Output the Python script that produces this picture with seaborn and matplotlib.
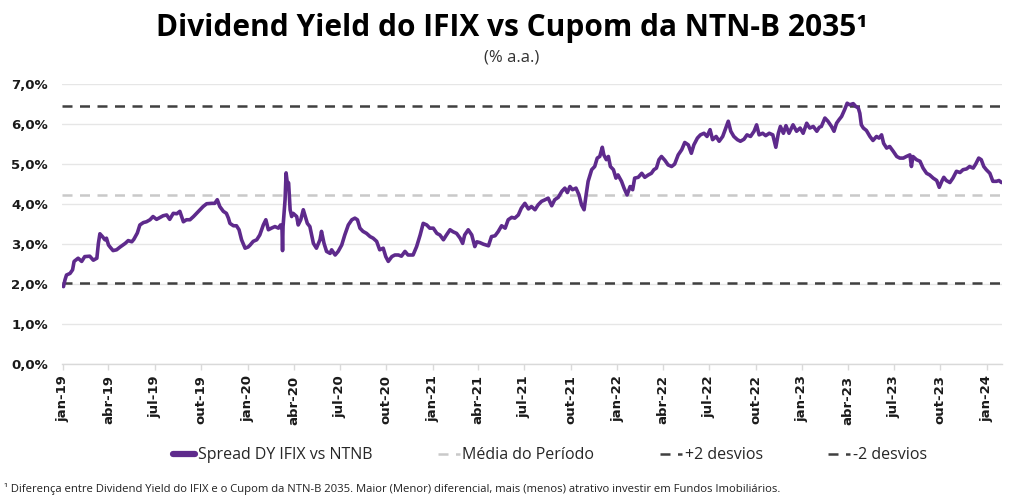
import matplotlib
matplotlib.use("Agg")
import matplotlib.pyplot as plt
from matplotlib.ticker import FuncFormatter
from matplotlib.lines import Line2D
import seaborn as sns
import pandas as pd

# ---------------- data ----------------
dates = [
    "2019-01-02", "2019-01-05", "2019-01-08", "2019-01-15", "2019-01-20", "2019-01-23", "2019-01-31",
    "2019-02-07", "2019-02-13", "2019-02-23", "2019-03-02", "2019-03-09", "2019-03-12", "2019-03-15",
    "2019-03-20", "2019-03-25", "2019-03-28", "2019-04-01", "2019-04-04", "2019-04-10", "2019-04-17",
    "2019-04-24", "2019-05-04", "2019-05-10", "2019-05-17", "2019-05-21", "2019-05-28", "2019-06-02",
    "2019-06-09", "2019-06-15", "2019-06-22", "2019-06-28", "2019-07-05", "2019-07-12", "2019-07-18",
    "2019-07-25", "2019-07-31", "2019-08-07", "2019-08-14", "2019-08-20", "2019-08-27", "2019-09-02",
    "2019-09-09", "2019-09-16", "2019-09-22", "2019-09-29", "2019-10-05", "2019-10-12", "2019-10-22",
    "2019-10-28", "2019-11-02", "2019-11-07", "2019-11-14", "2019-11-20", "2019-11-24", "2019-11-27",
    "2019-12-04", "2019-12-10", "2019-12-15", "2019-12-20", "2019-12-27", "2020-01-02",
    "2020-01-06", "2020-01-12", "2020-01-19", "2020-01-25", "2020-02-01", "2020-02-06", "2020-02-11",
    "2020-02-17", "2020-02-24", "2020-03-02", "2020-03-06", "2020-03-09", "2020-03-10", "2020-03-11",
    "2020-03-15", "2020-03-17", "2020-03-19", "2020-03-22", "2020-03-25", "2020-03-28", "2020-03-31",
    "2020-04-07", "2020-04-10", "2020-04-15", "2020-04-20", "2020-04-23", "2020-04-28", "2020-05-03",
    "2020-05-10", "2020-05-16", "2020-05-23", "2020-05-26", "2020-05-31", "2020-06-05", "2020-06-12",
    "2020-06-15", "2020-06-22", "2020-06-28", "2020-07-05", "2020-07-11", "2020-07-18", "2020-07-25",
    "2020-07-31", "2020-08-05", "2020-08-10", "2020-08-16", "2020-08-23", "2020-08-30", "2020-09-05",
    "2020-09-12", "2020-09-18", "2020-09-25", "2020-09-30", "2020-10-05", "2020-10-12", "2020-10-18",
    "2020-10-25", "2020-10-31", "2020-11-07", "2020-11-13", "2020-11-23", "2020-11-30", "2020-12-07",
    "2020-12-13", "2020-12-20", "2020-12-26", "2021-01-02", "2021-01-09",
    "2021-01-15", "2021-01-22", "2021-01-28", "2021-02-04", "2021-02-10", "2021-02-17", "2021-02-24",
    "2021-03-01", "2021-03-05", "2021-03-12", "2021-03-19", "2021-03-25", "2021-03-29", "2021-04-04",
    "2021-04-11", "2021-04-21", "2021-04-27", "2021-05-04", "2021-05-10", "2021-05-17", "2021-05-24",
    "2021-05-30", "2021-06-06", "2021-06-12", "2021-06-19", "2021-06-25", "2021-07-02", "2021-07-09",
    "2021-07-15", "2021-07-22", "2021-07-28", "2021-08-04", "2021-08-11", "2021-08-17", "2021-08-24",
    "2021-08-30", "2021-09-06", "2021-09-13", "2021-09-19", "2021-09-24", "2021-09-29", "2021-10-04",
    "2021-10-11", "2021-10-17", "2021-10-22", "2021-10-27", "2021-10-31", "2021-11-04", "2021-11-11",
    "2021-11-17", "2021-11-22", "2021-11-27", "2021-12-02", "2021-12-05", "2021-12-10", "2021-12-14",
    "2021-12-18", "2021-12-24", "2021-12-29", "2022-01-02", "2022-01-09", "2022-01-14", "2022-01-20",
    "2022-01-26", "2022-01-31", "2022-02-04", "2022-02-11", "2022-02-18", "2022-02-24", "2022-03-03",
    "2022-03-09", "2022-03-14", "2022-03-19", "2022-03-24", "2022-03-29", "2022-04-05", "2022-04-11",
    "2022-04-18", "2022-04-24", "2022-05-01", "2022-05-08", "2022-05-14", "2022-05-21", "2022-05-27",
    "2022-06-01", "2022-06-08", "2022-06-14", "2022-06-21", "2022-06-27", "2022-07-03", "2022-07-08",
    "2022-07-15", "2022-07-21", "2022-07-28", "2022-08-03", "2022-08-08", "2022-08-13", "2022-08-19",
    "2022-08-26", "2022-09-01", "2022-09-08", "2022-09-14", "2022-09-21", "2022-09-28", "2022-10-03",
    "2022-10-08", "2022-10-15", "2022-10-21", "2022-10-28", "2022-11-04", "2022-11-10", "2022-11-15",
    "2022-11-19", "2022-11-25", "2022-11-30", "2022-12-06", "2022-12-14", "2022-12-21", "2022-12-28",
    "2023-01-03", "2023-01-10", "2023-01-16", "2023-01-23", "2023-01-30", "2023-02-04",
    "2023-02-08", "2023-02-15", "2023-02-21", "2023-02-28", "2023-03-05", "2023-03-10", "2023-03-15",
    "2023-03-20", "2023-03-26", "2023-03-31", "2023-04-05", "2023-04-12", "2023-04-17", "2023-04-22",
    "2023-04-25", "2023-04-28", "2023-05-02", "2023-05-08", "2023-05-15", "2023-05-21", "2023-05-28",
    "2023-06-02", "2023-06-07", "2023-06-11", "2023-06-17", "2023-06-23", "2023-06-30", "2023-07-07",
    "2023-07-13", "2023-07-20", "2023-07-26", "2023-08-02", "2023-08-05", "2023-08-08", "2023-08-15",
    "2023-08-22", "2023-08-28", "2023-09-04", "2023-09-10", "2023-09-17", "2023-09-24", "2023-09-29",
    "2023-10-04", "2023-10-08", "2023-10-13", "2023-10-20", "2023-10-26", "2023-11-02", "2023-11-09",
    "2023-11-15", "2023-11-22", "2023-11-28", "2023-12-05", "2023-12-10", "2023-12-16", "2023-12-21",
    "2023-12-26", "2023-12-31", "2024-01-07", "2024-01-13", "2024-01-20", "2024-01-25", "2024-01-30",
]
spread = [
    1.94, 2.11, 2.23, 2.27, 2.36, 2.57, 2.65,
    2.57, 2.69, 2.70, 2.60, 2.65, 3.02, 3.26,
    3.19, 3.11, 3.15, 2.98, 2.93, 2.84, 2.86,
    2.93, 3.02, 3.09, 3.06, 3.12, 3.28, 3.48,
    3.54, 3.56, 3.61, 3.69, 3.62, 3.67, 3.71,
    3.73, 3.62, 3.77, 3.76, 3.82, 3.56, 3.61,
    3.61, 3.69, 3.77, 3.86, 3.94, 4.01, 4.02,
    4.02, 4.11, 3.94, 3.82, 3.77, 3.65, 3.52,
    3.46, 3.46, 3.36, 3.11, 2.90, 2.93,
    2.98, 3.07, 3.11, 3.23, 3.48, 3.61, 3.36,
    3.40, 3.44, 3.40, 3.48, 3.36, 2.84, 3.44,
    4.11, 4.78, 4.57, 4.53, 3.86, 3.69, 3.77,
    3.69, 3.48, 3.61, 3.86, 3.73, 3.52, 3.44,
    3.02, 2.90, 3.11, 3.32, 3.02, 2.82, 2.77,
    2.86, 2.73, 2.82, 2.98, 3.23, 3.48, 3.61,
    3.65, 3.61, 3.40, 3.32, 3.27, 3.19, 3.15,
    3.07, 2.86, 2.90, 2.69, 2.57, 2.69, 2.73,
    2.73, 2.70, 2.82, 2.73, 2.73, 2.94, 3.23,
    3.52, 3.48, 3.40, 3.40, 3.27,
    3.23, 3.11, 3.23, 3.36, 3.31, 3.27, 3.15,
    3.02, 3.23, 3.36, 3.23, 2.94, 3.06, 3.04,
    3.00, 2.96, 3.19, 3.21, 3.31, 3.46, 3.40,
    3.61, 3.67, 3.65, 3.73, 3.90, 4.02, 3.88,
    3.94, 3.86, 3.98, 4.07, 4.11, 4.15, 3.96,
    4.11, 4.17, 4.32, 4.40, 4.29, 4.44, 4.36,
    4.40, 4.23, 3.98, 3.86, 4.23, 4.57, 4.86,
    4.94, 5.15, 5.19, 5.42, 5.23, 5.11, 5.19,
    4.94, 4.86, 4.65, 4.73, 4.57, 4.40, 4.23,
    4.44, 4.36, 4.65, 4.67, 4.77, 4.67, 4.73,
    4.77, 4.86, 4.90, 5.11, 5.19, 5.09, 4.98,
    4.94, 5.00, 5.23, 5.36, 5.54, 5.48, 5.27,
    5.48, 5.65, 5.73, 5.77, 5.69, 5.86, 5.61,
    5.69, 5.57, 5.69, 5.90, 6.07, 5.82, 5.69,
    5.61, 5.57, 5.62, 5.73, 5.69, 5.82, 5.98,
    5.73, 5.77, 5.71, 5.77, 5.73, 5.42, 5.77,
    5.94, 5.77, 5.96, 5.77, 5.98, 5.82, 5.90,
    5.77, 6.02, 5.90, 5.94, 5.82, 5.92,
    5.94, 6.15, 6.07, 5.94, 5.82, 6.02, 6.11,
    6.19, 6.36, 6.52, 6.48, 6.51, 6.44, 6.40,
    6.27, 5.98, 5.90, 5.84, 5.69, 5.59, 5.69,
    5.65, 5.73, 5.52, 5.40, 5.44, 5.32, 5.19,
    5.15, 5.15, 5.19, 5.23, 4.94, 5.19, 5.11,
    5.07, 4.90, 4.77, 4.73, 4.65, 4.59, 4.42,
    4.57, 4.67, 4.59, 4.54, 4.65, 4.82, 4.79,
    4.86, 4.88, 4.94, 4.90, 5.00, 5.15, 5.11,
    4.94, 4.86, 4.77, 4.57, 4.57, 4.59, 4.54,
]
media = 4.24
mais_2_desvios = 6.46
menos_2_desvios = 2.03

tick_dates = ["2019-01-01", "2019-04-01", "2019-07-01", "2019-10-01", "2020-01-01", "2020-04-01",
              "2020-07-01", "2020-10-01", "2021-01-01", "2021-04-01", "2021-07-01", "2021-10-01",
              "2022-01-01", "2022-04-01", "2022-07-01", "2022-10-01", "2023-01-01", "2023-04-01",
              "2023-07-01", "2023-10-01", "2024-01-01"]
tick_labels = ["jan-19", "abr-19", "jul-19", "out-19", "jan-20", "abr-20", "jul-20", "out-20",
               "jan-21", "abr-21", "jul-21", "out-21", "jan-22", "abr-22", "jul-22", "out-22",
               "jan-23", "abr-23", "jul-23", "out-23", "jan-24"]
legend_labels = ["Spread DY IFIX vs NTNB", "Média do Período", "+2 desvios", "-2 desvios"]

# ---------------- style ----------------
PURPLE = "#5e2a8c"
DARK = "#404040"
LIGHT = "#c9c9c9"
DASH = (0, (4, 3))

sns.set_theme(style="white")
plt.rcParams["font.family"] = ["Open Sans", "DejaVu Sans"]

fig = plt.figure(figsize=(10.24, 5.03), dpi=100)
ax = fig.add_axes([0.0605, 0.2757, 0.918, 0.5573])

df = pd.DataFrame({"data": pd.to_datetime(dates), "spread": spread})
sns.lineplot(data=df, x="data", y="spread", ax=ax, color=PURPLE, lw=2.6, zorder=4, legend=False)
ax.axhline(media, color=LIGHT, lw=1.8, ls=DASH, zorder=3)
ax.axhline(mais_2_desvios, color=DARK, lw=1.8, ls=DASH, zorder=3)
ax.axhline(menos_2_desvios, color=DARK, lw=1.8, ls=DASH, zorder=3)

ax.set_ylim(0, 7)
ax.set_xlim(pd.Timestamp("2018-12-30"), pd.Timestamp("2024-01-31"))
ax.set_yticks(range(0, 8))
ax.yaxis.set_major_formatter(FuncFormatter(lambda v, p: f"{v:.1f}%".replace(".", ",")))
ax.set_xticks(pd.to_datetime(tick_dates))
ax.set_xticklabels(tick_labels, rotation=90)
ax.set_xlabel("")
ax.set_ylabel("")
ax.grid(axis="y", color="#e6e6e6", lw=1.0, zorder=0)
ax.set_axisbelow(True)
for s in ["top", "right", "left"]:
    ax.spines[s].set_visible(False)
ax.spines["bottom"].set_color("#d9d9d9")
ax.spines["bottom"].set_linewidth(1.0)
ax.tick_params(axis="x", length=4, width=1, color="#d9d9d9", bottom=True, pad=4)
ax.tick_params(axis="y", length=0, pad=10)
for lab in ax.get_xticklabels() + ax.get_yticklabels():
    lab.set_fontweight("bold")
    lab.set_color("#1a1a1a")
    lab.set_family(["DejaVu Sans"])
for lab in ax.get_xticklabels():
    lab.set_fontsize(9.5)
for lab in ax.get_yticklabels():
    lab.set_fontsize(9.5)

# ---------------- titles ----------------
fig.text(0.5, 0.944, "Dividend Yield do IFIX vs Cupom da NTN-B 2035\u00b9", ha="center", va="center",
         fontsize=21.5, fontweight="bold", color="#000000")
fig.text(0.5, 0.886, "(% a.a.)", ha="center", va="center", fontsize=12, color="#333333")

# ---------------- legend ----------------
handles = [
    Line2D([], [], color=PURPLE, lw=4.5),
    Line2D([], [], color=LIGHT, lw=1.8, ls=DASH),
    Line2D([], [], color=DARK, lw=1.8, ls=DASH),
    Line2D([], [], color=DARK, lw=1.8, ls=DASH),
]
fig.legend(handles, legend_labels, loc="center", bbox_to_anchor=(0.537, 0.095), ncol=4, frameon=False,
           prop={"family": ["Open Sans"], "size": 11.5},
           handlelength=1.4, handletextpad=0.15, columnspacing=4.1)

# ---------------- footnote ----------------
fig.text(0.004, 0.028, "\u00b9 Diferença entre Dividend Yield do IFIX e o Cupom da NTN-B 2035. Maior (Menor) "
         "diferencial, mais (menos) atrativo investir em Fundos Imobiliários.",
         ha="left", va="center", fontsize=8.1, color="#222222")

fig.savefig("out.png", dpi=100)
